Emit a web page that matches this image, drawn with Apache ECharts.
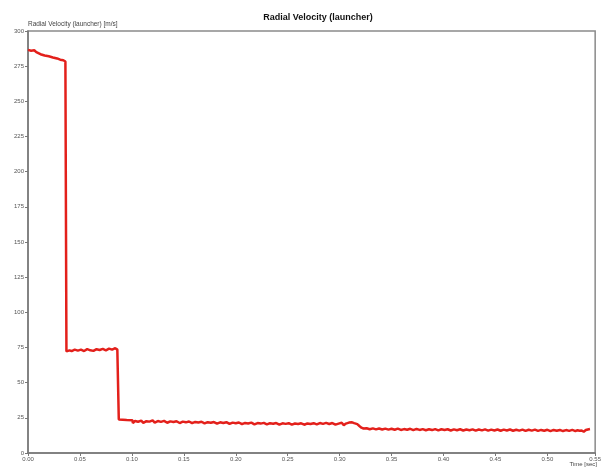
<!DOCTYPE html>
<html>
<head>
<meta charset="utf-8">
<script src="https://cdn.jsdelivr.net/npm/echarts@6/dist/echarts.min.js"></script>
<style>html,body{margin:0;padding:0;background:#fff}#c{width:604px;height:473px}</style>
</head>
<body>
<div id="c"></div>
<script>
var chartTitle = 'Radial Velocity (launcher)';
var yAxisName = 'Radial Velocity (launcher) [m/s]';
var xAxisName = 'Time [sec]';

var times = [
  0.000, 0.003, 0.006, 0.008, 0.012, 0.016, 0.020, 0.024, 0.028, 0.031, 0.034, 0.036, 0.0366,
  0.0370, 0.040, 0.042, 0.045, 0.048, 0.051, 0.054, 0.057, 0.060, 0.063, 0.066, 0.069, 0.072, 0.075, 0.078, 0.081, 0.084, 0.086, 0.0870,
  0.0874, 0.095, 0.1005, 0.101, 0.103, 0.106, 0.109, 0.111, 0.114, 0.117, 0.120, 0.122, 0.125, 0.128, 0.131, 0.134, 0.137, 0.140,
  0.143, 0.146, 0.149, 0.152, 0.155, 0.158, 0.161, 0.164, 0.167, 0.170, 0.173, 0.176, 0.179, 0.182, 0.185, 0.188, 0.191, 0.194,
  0.197, 0.200, 0.203, 0.206, 0.209, 0.212, 0.215, 0.218, 0.221, 0.224, 0.227, 0.230, 0.233, 0.236, 0.239, 0.242, 0.245, 0.248,
  0.251, 0.254, 0.257, 0.260, 0.263, 0.266, 0.269, 0.272, 0.275, 0.278, 0.281, 0.284, 0.287, 0.290, 0.293, 0.296, 0.299, 0.302,
  0.304, 0.306, 0.309, 0.312, 0.314, 0.317, 0.319, 0.321, 0.323, 0.326, 0.329, 0.332, 0.335, 0.338, 0.341, 0.344, 0.347, 0.350,
  0.353, 0.356, 0.359, 0.362, 0.365, 0.368, 0.371, 0.374, 0.377, 0.380, 0.383, 0.386, 0.389, 0.392, 0.395, 0.398, 0.401, 0.404,
  0.407, 0.410, 0.413, 0.416, 0.419, 0.422, 0.425, 0.428, 0.431, 0.434, 0.437, 0.440, 0.443, 0.446, 0.449, 0.452, 0.455, 0.458,
  0.461, 0.464, 0.467, 0.470, 0.473, 0.476, 0.479, 0.482, 0.485, 0.488, 0.491, 0.494, 0.497, 0.500, 0.503, 0.506, 0.509, 0.512,
  0.515, 0.518, 0.521, 0.524, 0.527, 0.529, 0.531, 0.533, 0.535, 0.537, 0.539, 0.541
];
var velocity = [
  286.6, 286.0, 286.3, 285.0, 283.5, 282.6, 282.0, 281.2, 280.5, 279.6, 279.2, 278.3, 277.5,
  72.2, 73.0, 72.5, 73.5, 72.8, 73.5, 72.5, 73.8, 73.0, 72.6, 73.8, 73.2, 74.0, 73.0, 74.2, 73.5, 74.5, 73.5, 74.0,
  23.8, 23.5, 23.3, 21.3, 22.8, 22.2, 23.0, 21.4, 22.6, 22.3, 23.2, 21.6, 22.7, 22.1, 22.8, 21.5, 22.5, 22.0,
  22.6, 21.3, 22.3, 21.8, 22.4, 21.2, 22.1, 21.7, 22.2, 21.0, 21.9, 21.5, 22.0, 20.9, 21.8, 21.3, 21.9, 20.7,
  21.6, 21.2, 21.7, 20.5, 21.4, 21.0, 21.6, 20.4, 21.3, 20.9, 21.4, 20.3, 21.2, 20.8, 21.3, 20.2, 21.1, 20.7,
  21.2, 20.2, 21.0, 20.6, 21.1, 20.1, 21.0, 20.6, 21.2, 20.3, 21.3, 20.7, 21.4, 20.6, 21.3, 20.2, 20.9, 21.5,
  19.8, 20.9, 21.6, 21.8, 21.2, 20.5, 19.2, 18.0, 17.4, 17.6, 16.9, 17.5, 16.8, 17.4, 16.7, 17.3, 16.6, 17.2,
  16.5, 17.3, 16.4, 17.0, 16.5, 17.2, 16.3, 17.1, 16.4, 17.0, 16.2, 16.9, 16.3, 17.0, 16.1, 16.9, 16.3, 16.9,
  16.0, 16.8, 16.2, 16.9, 16.0, 16.7, 16.2, 16.8, 15.9, 16.7, 16.1, 16.8, 15.9, 16.6, 16.0, 16.7, 15.8, 16.6,
  16.0, 16.7, 15.8, 16.5, 15.9, 16.6, 15.7, 16.5, 15.9, 16.6, 15.7, 16.4, 15.8, 16.5, 15.6, 16.4, 15.8, 16.4,
  15.6, 16.3, 15.7, 16.4, 15.6, 16.2, 15.8, 16.0, 15.1, 16.3, 16.7, 17.0
];
var yTicks = [0, 300, 25];
var xTicks = [0, 0.546, 0.05];

var pts = times.map(function (t, i) { return [t, velocity[i]]; });

var chart = echarts.init(document.getElementById('c'), null, { renderer: 'canvas' });
chart.setOption({
  backgroundColor: '#ffffff',
  animation: false,
  title: [
    { text: chartTitle, left: 313, textAlign: 'center', top: 8,
      textStyle: { fontFamily: 'Liberation Sans', fontSize: 9, fontWeight: 'bold', color: '#111' } },
    { text: xAxisName, right: 2, bottom: 1,
      textStyle: { fontFamily: 'Liberation Sans', fontSize: 6, fontWeight: 'normal', color: '#444' } }
  ],
  grid: { left: 28, right: 6, top: 31, bottom: 20, show: true, borderColor: '#8a8a8a', borderWidth: 1.5, backgroundColor: 'transparent' },
  xAxis: {
    type: 'value', min: xTicks[0], max: xTicks[1], interval: xTicks[2],
    axisLine: { show: true, lineStyle: { color: '#777', width: 1.5 } },
    axisTick: { show: true, length: 3, lineStyle: { color: '#777' } },
    splitLine: { show: false },
    axisLabel: { fontFamily: 'Liberation Sans', fontSize: 6, color: '#555', margin: 3,
      formatter: function (v) { return v.toFixed(2); } }
  },
  yAxis: {
    type: 'value', min: yTicks[0], max: yTicks[1], interval: yTicks[2],
    name: yAxisName, nameLocation: 'end', nameGap: 2,
    nameTextStyle: { fontFamily: 'Liberation Sans', fontSize: 6.5, color: '#444', align: 'left', padding: [0, 0, 0, 0] },
    axisLine: { show: true, lineStyle: { color: '#777', width: 1.5 } },
    axisTick: { show: true, length: 3, lineStyle: { color: '#777' } },
    splitLine: { show: false },
    axisLabel: { fontFamily: 'Liberation Sans', fontSize: 6, color: '#555', margin: 4 }
  },
  series: [{
    type: 'line', data: pts, showSymbol: false, symbol: 'none',
    lineStyle: { color: '#e3201b', width: 2.5 },
    z: 3
  }]
});
</script>
</body>
</html>
